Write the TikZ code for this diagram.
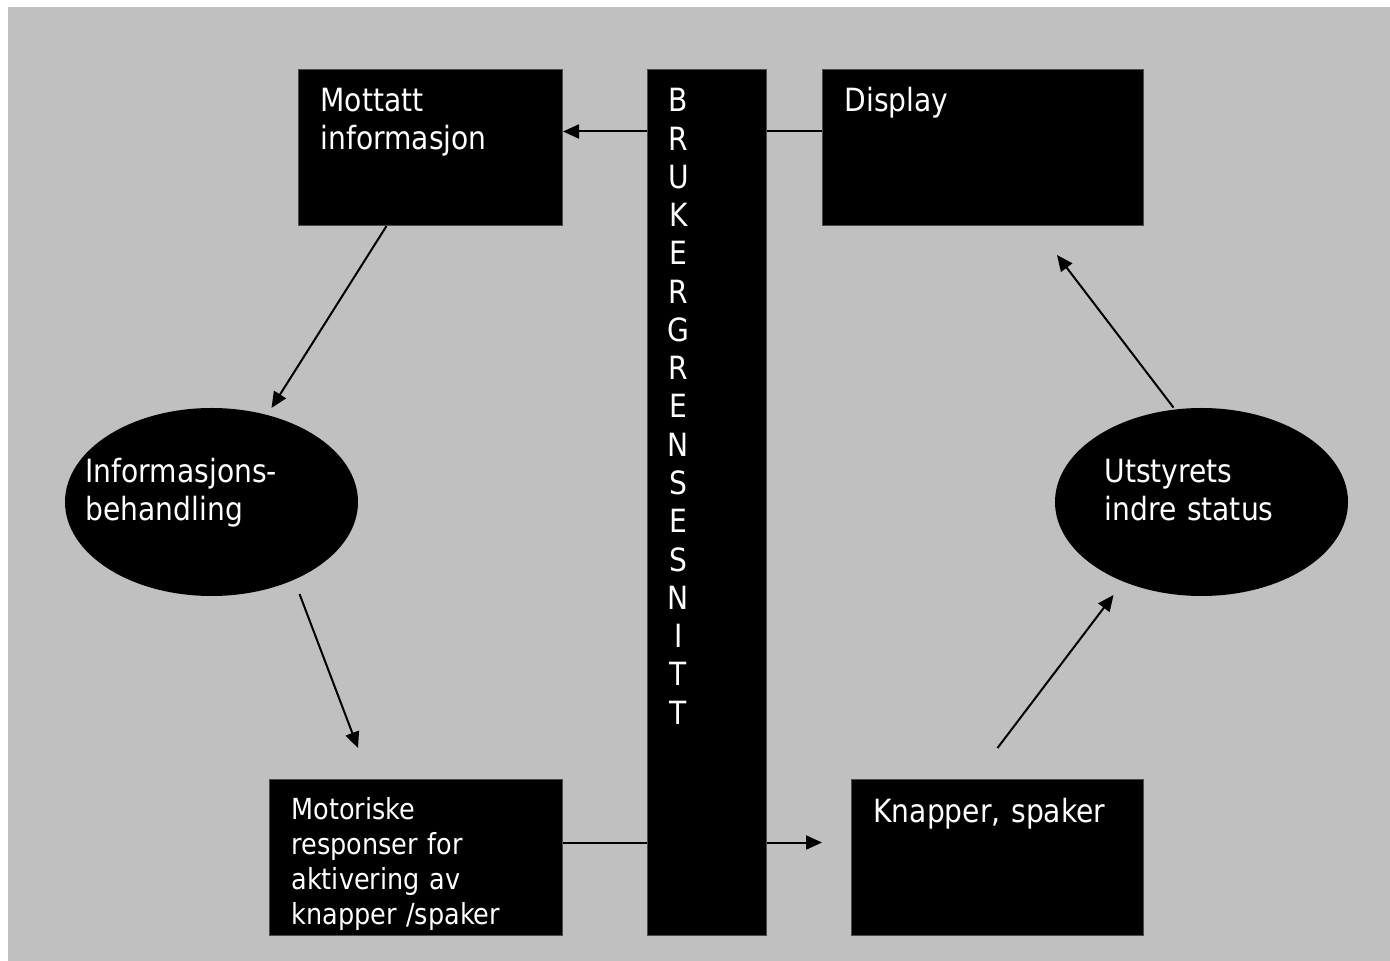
\documentclass[tikz,border=0pt]{standalone}
\usepackage{fontspec}
\setmainfont{DejaVu Sans}[FakeStretch=0.88]
\usetikzlibrary{arrows.meta,calc,shapes.geometric}
\definecolor{bggray}{RGB}{192,192,192}
\newcommand{\bigfont}{\fontsize{16pt}{19pt}\selectfont}
\newcommand{\motfont}{\fontsize{14.5pt}{17.5pt}\selectfont}

\begin{document}
\begin{tikzpicture}[x=0.5pt,y=-0.5pt,
    box/.style={fill=black, draw=black!70, line width=0.5pt, text=white, anchor=north west,
        align=left, inner xsep=11pt, inner ysep=0pt, font=\bigfont},
    ell/.style={ellipse, fill=black, text=white, align=left, font=\bigfont,
        minimum width=146.5pt, minimum height=94pt, inner xsep=-15pt, inner ysep=0pt,
        text height=12pt, text depth=31pt},
    arr/.style={line width=1pt, -{Triangle[length=8pt,width=7pt]}},
    ltr/.style={text=white, anchor=base, inner sep=0pt, font=\bigfont}]
    \useasboundingbox (0,0) rectangle (1390,961);
    \fill[bggray] (8,7) rectangle (1390,961);
    % boxes
    \node[box, text width=110pt, text height=21pt, text depth=57pt] (mottatt) at (298,69) {Mottatt\\informasjon};
    \node[box, text width=138.5pt, text height=21pt, text depth=57pt] (display) at (822,69) {Display};
    \node[box, text width=124.5pt, text height=20pt, text depth=58pt, font=\motfont] (motor) at (269,779)
        {Motoriske\\responser for\\aktivering av\\knapper /spaker};
    \node[box, text width=124pt, text height=21.5pt, text depth=56.5pt] (knapper) at (851,779) {Knapper, spaker};
    % ellipses
    \node[ell, text width=126pt] (info) at (211.5,502) {Informasjons-\\behandling};
    \node[ell, text width=97pt] (utstyr) at (1201.5,502) {Utstyrets\\indre status};
    % arrows
    \draw[arr] ($(display.west)+(0,-16)$) -- ($(mottatt.east)+(0,-16)$);
    \draw[arr] ($(mottatt.south)+(-44,0)$) -- ($(info.center)+(60,-94)$);
    \draw[arr] ($(info.center)+(88,92)$) -- ($(motor.north)+(-58,-31)$);
    \draw[arr] ($(motor.east)+(0,-15)$) -- ($(knapper.west)+(-29,-15)$);
    \draw[arr] ($(knapper.north)+(0,-31)$) -- ($(utstyr.center)+(-88,93)$);
    \draw[arr] ($(utstyr.north)+(-28,0)$) -- ($(display.south)+(74,29)$);
    % brukergrensesnitt
    \node[box, minimum width=59.5pt, minimum height=433pt, inner sep=0pt] (bar) at (647,69) {};
    \foreach \c [count=\i] in {B,R,U,K,E,R,G,R,E,N,S,E,S,N,I,T,T}
        \node[ltr] (ltr\i) at ($(bar.north west)+(31.5,{43+38.25*(\i-1)})$) {\c};
\end{tikzpicture}
\end{document}
